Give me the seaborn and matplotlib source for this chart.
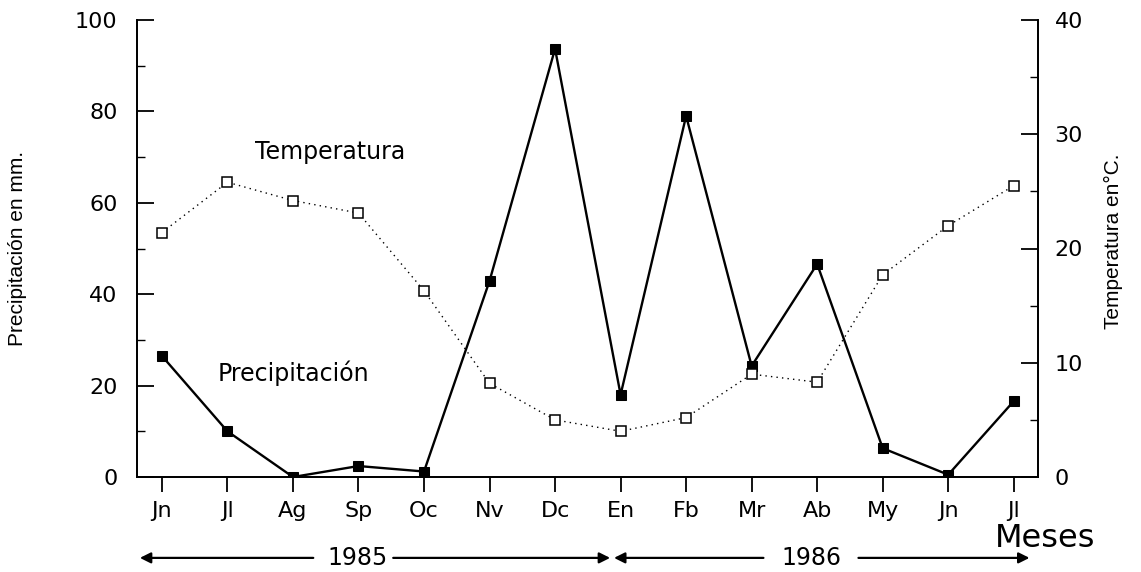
import matplotlib
matplotlib.use("Agg")
import matplotlib.pyplot as plt
import matplotlib.transforms as mtransforms
from matplotlib.ticker import MultipleLocator
import seaborn as sns
import pandas as pd

months = ["Jn", "Jl", "Ag", "Sp", "Oc", "Nv", "Dc", "En", "Fb", "Mr", "Ab", "My", "Jn", "Jl"]
precipitacion = [26.5, 10.0, 0.0, 2.4, 1.2, 42.9, 93.7, 18.0, 79.0, 24.3, 46.6, 6.3, 0.5, 16.6]
temperatura = [21.4, 25.8, 24.2, 23.1, 16.3, 8.2, 5.0, 4.0, 5.2, 9.0, 8.3, 17.7, 22.0, 25.5]
years = ["1985", "1986"]

sns.set_style("ticks")
plt.rcParams["font.family"] = ["DejaVu Sans"]
plt.rcParams["text.color"] = "black"
plt.rcParams["xtick.color"] = "black"
plt.rcParams["ytick.color"] = "black"
plt.rcParams["axes.labelcolor"] = "black"

df = pd.DataFrame({"idx": range(len(months)), "prec": precipitacion, "temp": temperatura})

fig = plt.figure(figsize=(11.41, 5.72), dpi=100)
ax = fig.add_axes([137 / 1141, 95 / 572, 901 / 1141, 457 / 572])
ax2 = ax.twinx()

sns.lineplot(data=df, x="idx", y="prec", ax=ax, color="black", lw=1.7,
             marker="s", markersize=6.8, markerfacecolor="black",
             markeredgecolor="black")
sns.lineplot(data=df, x="idx", y="temp", ax=ax2, color="black", lw=1.0,
             linestyle=(0, (1, 3)), marker="s", markersize=6.8,
             markerfacecolor="white", markeredgecolor="black", markeredgewidth=1.1)

ax.set_xlim(-0.38, 13.37)
ax.set_ylim(0, 100)
ax2.set_ylim(0, 40)

ax.set_xticks(range(len(months)))
ax.set_xticklabels(months, fontsize=16)
ax.set_xlabel("")
ax.set_ylabel("")
ax2.set_ylabel("")

ax.yaxis.set_major_locator(MultipleLocator(20))
ax.yaxis.set_minor_locator(MultipleLocator(10))
ax2.yaxis.set_major_locator(MultipleLocator(10))
ax2.yaxis.set_minor_locator(MultipleLocator(5))

ax.tick_params(axis="y", which="major", direction="in", length=12, width=1.3, labelsize=16, pad=14)
ax.tick_params(axis="y", which="minor", direction="in", length=6, width=1.0)
ax.tick_params(axis="x", which="major", direction="out", length=11, width=1.3, pad=6)
ax2.tick_params(axis="y", which="major", direction="in", length=12, width=1.3, labelsize=16, pad=12)
ax2.tick_params(axis="y", which="minor", direction="in", length=6, width=1.0)

for a in (ax, ax2):
    a.spines["top"].set_visible(False)
    for s in ("left", "right", "bottom"):
        a.spines[s].set_linewidth(1.3)
        a.spines[s].set_color("black")
ax2.spines["right"].set_visible(True)

lab_family = ["Liberation Sans Narrow", "Liberation Sans", "DejaVu Sans"]
ax.set_ylabel("Precipitación en mm.", fontsize=15, family=lab_family)
ax.yaxis.set_label_coords(-0.122, 0.5)
ax2.set_ylabel("Temperatura en°C.", fontsize=15, family=lab_family, rotation=90)
ax2.yaxis.set_label_coords(1.073, 0.515)

ax.text(1.42, 71.1, "Temperatura", fontsize=17, ha="left", va="center")
ax.text(0.855, 22.8, "Precipitación", fontsize=17, ha="left", va="center")

trans = mtransforms.blended_transform_factory(ax.transData, ax.transAxes)
ax.text(13.48, -0.135, "Meses", fontsize=23, ha="center", va="center", transform=trans)

yy = -0.177
ax.text(2.98, yy, years[0], fontsize=17, ha="center", va="center", transform=trans)
ax.text(9.92, yy, years[1], fontsize=17, ha="center", va="center", transform=trans)

arrow_kw = dict(arrowstyle="-|>", color="black", lw=1.6, mutation_scale=16, shrinkA=0, shrinkB=0)
segments = [(2.31, -0.336), (3.53, 6.84), (9.18, 6.90), (10.63, 13.24)]
for start, end in segments:
    ax.annotate("", xy=(end, yy), xytext=(start, yy), xycoords=trans, textcoords=trans,
                arrowprops=arrow_kw, annotation_clip=False)

fig.savefig("out.png", dpi=100)
